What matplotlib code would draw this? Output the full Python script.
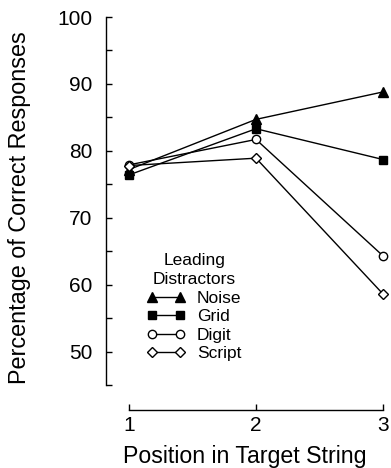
"""Percentage of correct responses by position in target string."""

import matplotlib
matplotlib.use("Agg")
import matplotlib.pyplot as plt

plt.rcParams["font.family"] = ["Liberation Sans", "DejaVu Sans"]

positions = [1, 2, 3]
noise = [77.2, 84.7, 88.8]
grid = [76.4, 83.3, 78.7]
digit = [77.9, 81.7, 64.3]
script = [77.8, 78.9, 58.6]

series = [
    ("Noise", noise, "^", "black", 7),
    ("Grid", grid, "s", "black", 5.5),
    ("Digit", digit, "o", "white", 6),
    ("Script", script, "D", "white", 5.5),
]

fig = plt.figure(figsize=(3.91, 4.68), dpi=100)
ax = fig.add_axes([106 / 391, 83 / 468, 277 / 391, 368 / 468])

for name, vals, marker, face, ms in series:
    ax.plot(positions, vals, marker=marker, color="black", markerfacecolor=face,
            markeredgecolor="black", markersize=ms, linewidth=1.0,
            label=name, clip_on=False, zorder=3)

ax.set_xlim(1 - 23 / 127, 3)
ax.set_ylim(45, 100)

ax.spines["top"].set_visible(False)
ax.spines["right"].set_visible(False)
ax.spines["bottom"].set_position(("outward", 18))
ax.spines["bottom"].set_bounds(1, 3)
for s in ("left", "bottom"):
    ax.spines[s].set_linewidth(1.0)

ax.set_xticks(positions)
ax.set_yticks(range(50, 101, 10))
ax.set_yticks(range(45, 101, 10), minor=True)
ax.tick_params(axis="both", which="both", direction="in", length=4, width=1.0,
               labelsize=15)
ax.tick_params(axis="y", pad=10)
ax.tick_params(axis="x", pad=4.5)

ax.set_xlabel("Position in Target String", fontsize=16.7, labelpad=7)
ax.set_ylabel("Percentage of Correct Responses", fontsize=16.8, labelpad=19)
ax.yaxis.label.set_y(0.483)

leg = ax.legend(title="Leading\nDistractors", loc="lower left",
                bbox_to_anchor=(0.122, 0.045), frameon=False, fontsize=12.5,
                title_fontsize=12.5, numpoints=2, handlelength=2.2,
                handletextpad=0.7, labelspacing=0.2, borderaxespad=0)
leg.get_title().set_multialignment("center")
leg.get_title().set_linespacing(1.3)

fig.savefig("out.png", dpi=100)
